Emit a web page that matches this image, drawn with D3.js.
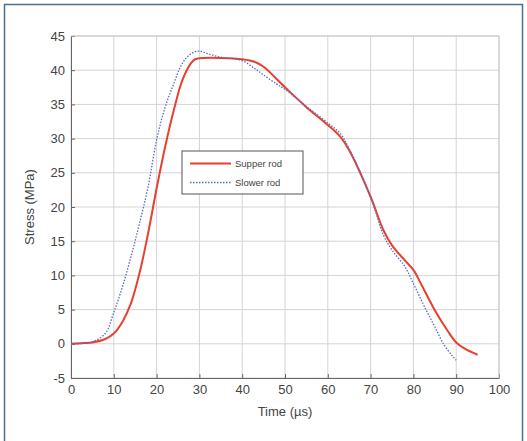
<!DOCTYPE html>
<html>
<head>
<meta charset="utf-8">
<script src="https://cdn.jsdelivr.net/npm/d3@7"></script>
<style>
  body { margin: 0; background: #fff; }
  svg { display: block; font-family: "Liberation Sans", Arial, sans-serif; }
</style>
</head>
<body>
<script>
// time (µs) and stress (MPa)
var upperTime   = [0, 3, 5, 8, 10, 12, 14, 16, 18, 20, 22, 24, 26, 28, 29, 31, 35, 40, 43, 45, 50, 55, 60, 63, 65, 70, 73, 75, 78, 80, 82, 85, 88, 90, 92, 95];
var upperStress = [0, 0.1, 0.2, 0.7, 1.5, 3.2, 5.9, 10.3, 16.1, 22.7, 28.8, 34.1, 38.5, 41.0, 41.6, 41.8, 41.8, 41.6, 41.2, 40.5, 37.5, 34.6, 32.0, 30.2, 28.3, 21.5, 16.6, 14.4, 12.2, 10.8, 8.5, 4.9, 1.9, 0.2, -0.7, -1.6];
var lowerTime   = [0, 3, 5, 8, 10, 12, 14, 16, 18, 20, 22, 24, 26, 28, 30, 32, 35, 40, 43, 45, 48, 50, 55, 60, 63, 65, 70, 73, 75, 78, 80, 83, 85, 87, 89, 90];
var lowerStress = [-0.1, 0.1, 0.3, 1.5, 4.6, 8.3, 12.7, 17.6, 22.9, 29.8, 34.6, 38.0, 41.0, 42.4, 42.8, 42.4, 41.9, 41.4, 40.2, 39.3, 38.0, 37.2, 34.7, 32.3, 30.7, 28.5, 21.5, 15.9, 13.7, 11.3, 8.8, 4.9, 2.5, 0.0, -1.7, -2.4];
var xTicks = [0, 10, 20, 30, 40, 50, 60, 70, 80, 90, 100];
var yTicks = [-5, 0, 5, 10, 15, 20, 25, 30, 35, 40, 45];
var seriesNames = ["Supper rod", "Slower rod"];

var W = 527, H = 441;
var svg = d3.select("body").append("svg").attr("width", W).attr("height", H);

// outer frame
svg.append("rect").attr("x", 4.5).attr("y", 4.5).attr("width", 518).attr("height", 440)
    .attr("fill", "#fff").attr("stroke", "#4d6f8c").attr("stroke-width", 1.5);

var x = d3.scaleLinear().domain([0, 100]).range([71, 499]);
var y = d3.scaleLinear().domain([-5, 45]).range([378, 36]);

var g = svg.append("g");

// grid
g.selectAll(".vg").data(xTicks).enter().append("line")
    .attr("x1", d => x(d)).attr("x2", d => x(d)).attr("y1", y(-5)).attr("y2", y(45))
    .attr("stroke", "#d4d4d4").attr("stroke-width", 1);
g.selectAll(".hg").data(yTicks).enter().append("line")
    .attr("x1", x(0)).attr("x2", x(100)).attr("y1", d => y(d)).attr("y2", d => y(d))
    .attr("stroke", "#d4d4d4").attr("stroke-width", 1);

// axes (ticks inward, matlab style)
var fmt = d => String(d);
var xAxis = d3.axisBottom(x).tickValues(xTicks).tickFormat(fmt).tickSizeInner(-4).tickSizeOuter(0).tickPadding(8);
var yAxis = d3.axisLeft(y).tickValues(yTicks).tickFormat(fmt).tickSizeInner(-4).tickSizeOuter(0).tickPadding(6);

var gx = g.append("g").attr("transform", "translate(0," + y(-5) + ")").call(xAxis);
var gy = g.append("g").attr("transform", "translate(" + x(0) + ",0)").call(yAxis);
[gx, gy].forEach(function (a) {
    a.select(".domain").attr("stroke", "#666");
    a.selectAll(".tick line").attr("stroke", "#666");
    a.selectAll("text").attr("fill", "#444").style("font-size", "13px");
});
gx.selectAll("text").attr("dy", "0.6em");

// top/right box
g.append("line").attr("x1", x(0)).attr("x2", x(100)).attr("y1", y(45)).attr("y2", y(45)).attr("stroke", "#c8c8c8");
g.append("line").attr("x1", x(100)).attr("x2", x(100)).attr("y1", y(45)).attr("y2", y(-5)).attr("stroke", "#c8c8c8");

// axis titles
svg.append("text").attr("x", (x(0) + x(100)) / 2).attr("y", 416).attr("text-anchor", "middle")
    .attr("fill", "#444").style("font-size", "13px").text("Time (µs)");
svg.append("text").attr("transform", "translate(34," + (y(20)) + ") rotate(-90)")
    .attr("text-anchor", "middle").attr("fill", "#444").style("font-size", "13px").text("Stress (MPa)");

var line = d3.line().x(d => x(d[0])).y(d => y(d[1])).curve(d3.curveCatmullRom.alpha(0.5));
var upper = upperTime.map((t, i) => [t, upperStress[i]]);
var lower = lowerTime.map((t, i) => [t, lowerStress[i]]);

g.append("path").datum(upper).attr("d", line).attr("fill", "none")
    .attr("stroke", "#e8402f").attr("stroke-width", 2);
g.append("path").datum(lower).attr("d", line).attr("fill", "none")
    .attr("stroke", "#5a6ac4").attr("stroke-width", 1.3).attr("stroke-dasharray", "1.5,1.5");

// legend
var lg = svg.append("g").attr("transform", "translate(182,151)");
lg.append("rect").attr("width", 121).attr("height", 43).attr("fill", "#fff")
    .attr("stroke", "#555").attr("stroke-width", 1);
lg.append("line").attr("x1", 8).attr("x2", 49).attr("y1", 12.5).attr("y2", 12.5)
    .attr("stroke", "#e8402f").attr("stroke-width", 2);
lg.append("line").attr("x1", 8).attr("x2", 49).attr("y1", 31.5).attr("y2", 31.5)
    .attr("stroke", "#5a6ac4").attr("stroke-width", 1.3).attr("stroke-dasharray", "1.5,1.5");
lg.selectAll("text").data(seriesNames).enter().append("text")
    .attr("x", 53).attr("y", (d, i) => 16 + i * 19)
    .attr("fill", "#444").style("font-size", "9.5px").text(d => d);
</script>
</body>
</html>
